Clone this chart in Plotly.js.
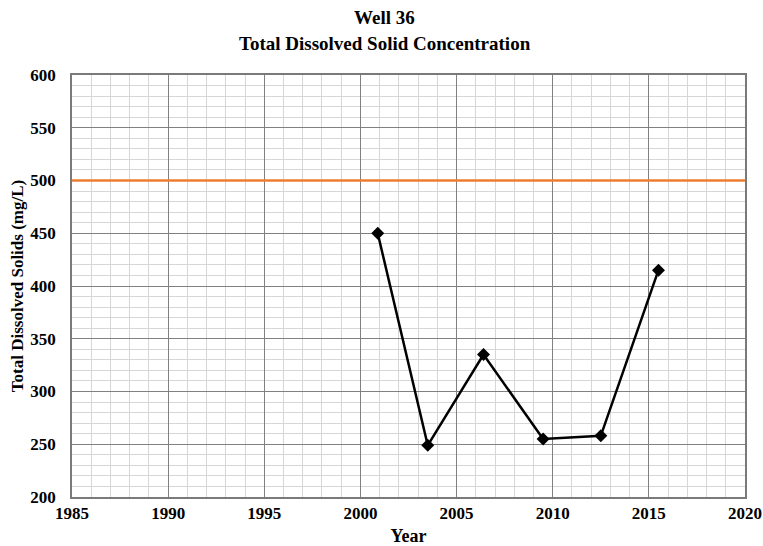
<!DOCTYPE html>
<html>
<head>
<meta charset="utf-8">
<script src="https://cdn.plot.ly/plotly-3.0.1.min.js"></script>
<style>html,body{margin:0;padding:0;background:#fff;}#chart{width:763px;height:546px;}</style>
</head>
<body>
<div id="chart"></div>
<script>
const years = [2000.9, 2003.5, 2006.4, 2009.5, 2012.5, 2015.5];
const tds = [450, 249, 335, 255, 258, 415];
const limitYears = [1985, 2020];
const limitValues = [500, 500];
const titleLines = ['Well 36', 'Total Dissolved Solid Concentration'];

const font = 'Liberation Serif, Times New Roman, serif';
const data = [
  {x: limitYears, y: limitValues, mode: 'lines', line: {color: '#ED7D31', width: 2.5}, hoverinfo: 'skip'},
  {x: years, y: tds, mode: 'lines+markers', line: {color: '#000', width: 2.5},
   marker: {symbol: 'diamond', size: 10, color: '#000'}}
];
const layout = {
  width: 763, height: 546,
  margin: {l: 72, r: 18, t: 75, b: 49},
  paper_bgcolor: '#fff', plot_bgcolor: '#fff',
  showlegend: false,
  font: {family: font, color: '#000'},
  annotations: [
    {text: '<b>' + titleLines[0] + '</b>', xref: 'paper', yref: 'paper', x: 0.465, y: 1.137, xanchor: 'center', yanchor: 'middle', showarrow: false, font: {family: font, size: 19, color: '#000'}},
    {text: '<b>' + titleLines[1] + '</b>', xref: 'paper', yref: 'paper', x: 0.465, y: 1.0735, xanchor: 'center', yanchor: 'middle', showarrow: false, font: {family: font, size: 19, color: '#000'}}
  ],
  xaxis: {range: [1985, 2020], dtick: 5, tick0: 1985, showgrid: true, gridcolor: '#808080', gridwidth: 1.2,
    minor: {dtick: 1, showgrid: true, gridcolor: '#d6d6d6', gridwidth: 1.2},
    showline: true, linecolor: '#7a7a7a', linewidth: 1.5, mirror: true, zeroline: false,
    ticks: '', tickfont: {family: font, size: 17, color: '#000', weight: 'bold'},
    title: {text: '<b>Year</b>', font: {family: font, size: 18, color: '#000'}, standoff: 9}},
  yaxis: {range: [200, 600], dtick: 50, showgrid: true, gridcolor: '#808080', gridwidth: 1.2,
    minor: {dtick: 10, showgrid: true, gridcolor: '#d6d6d6', gridwidth: 1.2},
    showline: true, linecolor: '#7a7a7a', linewidth: 1.5, mirror: true, zeroline: false,
    ticks: '', ticklabelstandoff: 11, tickfont: {family: font, size: 17, color: '#000', weight: 'bold'},
    title: {text: '<b>Total Dissolved Solids (mg/L)</b>', font: {family: font, size: 17, color: '#000'}, standoff: 2}}
};
Plotly.newPlot('chart', data, layout, {displayModeBar: false});
</script>
</body>
</html>
